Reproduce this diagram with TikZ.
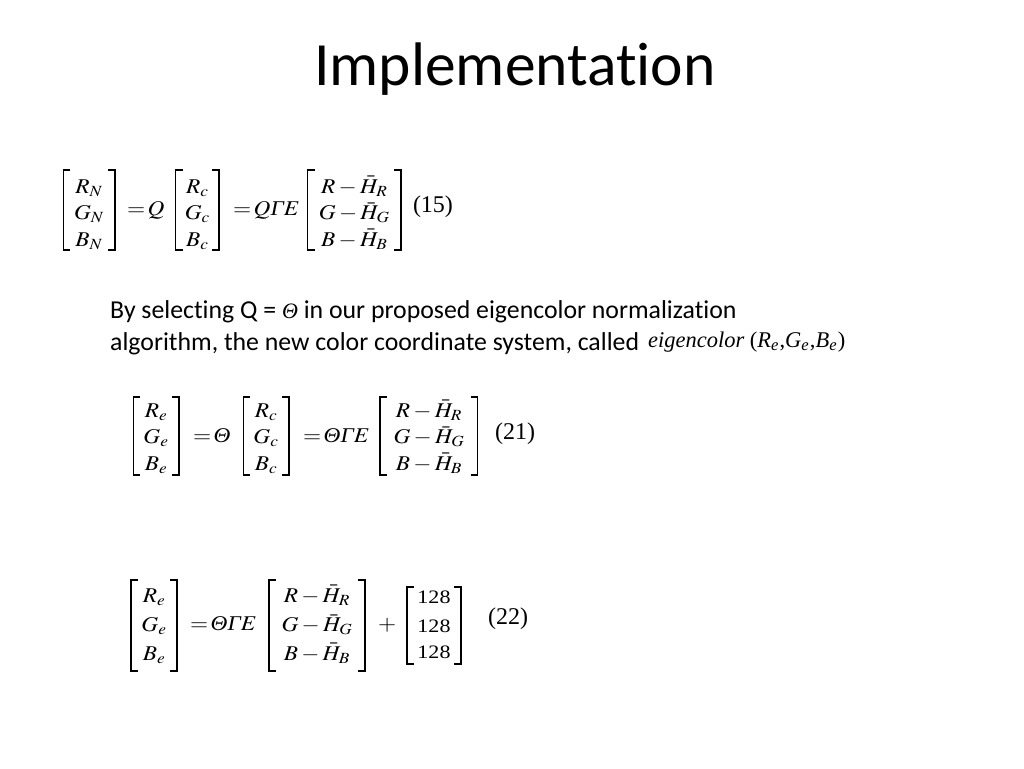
\documentclass[tikz,border=0pt]{standalone}
\usepackage{amsmath}
\usepackage{graphicx}
\usepackage{mathptmx}
\usepackage[no-math]{fontspec}
\newfontfamily\calib[Ligatures=NoCommon]{Carlito}
\newfontfamily\tms{Liberation Serif}
\newcommand{\iTheta}{\text{\tms\itshape Θ}}
\newcommand{\iGamma}{\text{\tms\itshape Γ}}
\newcommand{\sx}[1]{\scalebox{1.11}[1]{$#1$}}
\newcommand{\mbrk}[4]{%
  \draw[brk] (#1+7,#3) -- (#1,#3) -- (#1,#4) -- (#1+7,#4);
  \draw[brk] (#2-7,#3) -- (#2,#3) -- (#2,#4) -- (#2-7,#4);}
\begin{document}
\begin{tikzpicture}[x=1pt,y=-1pt,
  eqt/.style={inner sep=0pt,outer sep=0pt,anchor=base west,font=\fontsize{21}{24}\selectfont},
  eqno/.style={inner sep=0pt,outer sep=0pt,anchor=base west,font=\tms\fontsize{24}{28}\selectfont},
  ent/.style={inner sep=0pt,outer sep=0pt,anchor=base,font=\fontsize{21}{24}\selectfont},
  num/.style={inner sep=0pt,outer sep=0pt,anchor=base,font=\tms\fontsize{19}{22}\selectfont},
  brk/.style={line width=1.2pt,line cap=butt,line join=miter},
  bodytext/.style={inner sep=0pt,anchor=base west,font=\calib\fontsize{25.8}{31}\selectfont}]
\fill[white] (0,0) rectangle (1024,768);
\useasboundingbox (0,0) rectangle (1024,768);
% title
\node[inner sep=0pt,anchor=base,font=\calib\fontsize{61.5}{75}\selectfont] (title) at (515,85) {Implementation};
% equation (15)
\mbrk{63.3}{115}{170}{250}
\mbrk{175.7}{219}{170}{250}
\mbrk{307.7}{401}{170}{250}
\node[ent] (a1) at (89,193) {\sx{R_N}};
\node[ent] (a2) at (89,219.5) {\sx{G_N}};
\node[ent] (a3) at (89,246) {\sx{B_N}};
\node[eqt] (aeq1) at (127,215) {\sx{{=}\,Q}};
\node[ent] (b1) at (197.4,193) {\sx{R_c}};
\node[ent] (b2) at (197.4,219.5) {\sx{G_c}};
\node[ent] (b3) at (197.4,246) {\sx{B_c}};
\node[eqt] (aeq2) at (233,215) {\sx{{=}\,Q\iGamma E}};
\node[ent] (c1) at (354.3,193) {\sx{R-\bar H_R}};
\node[ent] (c2) at (354.3,219.5) {\sx{G-\bar H_G}};
\node[ent] (c3) at (354.3,246) {\sx{B-\bar H_B}};
\node[eqno] (n15) at (413,212) {(15)};
% text
\node[bodytext] (l1) at (110,318) {By selecting Q = {\tms\itshape\fontsize{22}{24}\selectfont Θ} in our proposed eigencolor normalization};
\node[bodytext] (l2) at (110,350) {algorithm, the new color coordinate system, called};
\node[inner sep=0pt,anchor=base west] (ec) at (648,347) {\resizebox{197pt}{!}{\tms\itshape eigencolor\ \upshape(\itshape R\textsubscript{e}\upshape,\itshape G\textsubscript{e}\upshape,\itshape B\textsubscript{e}\upshape)}};
% equation (21)
\mbrk{133.3}{179}{397}{475}
\mbrk{243.3}{289}{397}{475}
\mbrk{380}{477.7}{397}{475}
\node[ent] (d1) at (156,417) {\sx{R_e}};
\node[ent] (d2) at (156,443.5) {\sx{G_e}};
\node[ent] (d3) at (156,470) {\sx{B_e}};
\node[eqt] (deq1) at (193,442) {\sx{{=}\,\iTheta}};
\node[ent] (e1) at (266,417) {\sx{R_c}};
\node[ent] (e2) at (266,443.5) {\sx{G_c}};
\node[ent] (e3) at (266,470) {\sx{B_c}};
\node[eqt] (deq2) at (303,442) {\sx{{=}\,\iTheta\iGamma E}};
\node[ent] (f1) at (429,417) {\sx{R-\bar H_R}};
\node[ent] (f2) at (429,443.5) {\sx{G-\bar H_G}};
\node[ent] (f3) at (429,470) {\sx{B-\bar H_B}};
\node[eqno] (n21) at (495,439) {(21)};
% equation (22)
\mbrk{131}{177}{580}{671}
\mbrk{269}{365}{580}{671}
\mbrk{407}{461}{587}{664}
\node[ent] (g1) at (154,602) {\sx{R_e}};
\node[ent] (g2) at (154,631.5) {\sx{G_e}};
\node[ent] (g3) at (154,660) {\sx{B_e}};
\node[eqt] (geq1) at (190,630) {\sx{{=}\,\iTheta\iGamma E}};
\node[ent] (h1) at (317,602) {\sx{R-\bar H_R}};
\node[ent] (h2) at (317,631.5) {\sx{G-\bar H_G}};
\node[ent] (h3) at (317,660) {\sx{B-\bar H_B}};
\node[eqt] (plus) at (378,630) {\sx{+}};
\node[num] (k1) at (434,603) {\scalebox{1.16}[1]{128}};
\node[num] (k2) at (434,632) {\scalebox{1.16}[1]{128}};
\node[num] (k3) at (434,658) {\scalebox{1.16}[1]{128}};
\node[eqno] (n22) at (488,624) {(22)};
\end{tikzpicture}
\end{document}
